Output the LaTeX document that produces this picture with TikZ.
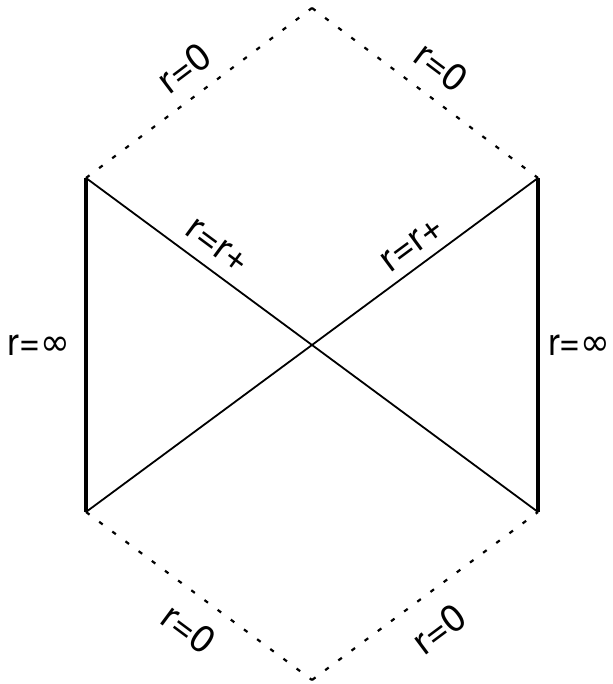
\documentclass[tikz,border=0pt]{standalone}
\usepackage{fontspec}
\setmainfont{TeX Gyre Heros}
\newfontfamily\dejavu{DejaVu Sans}
\newcommand{\infsym}{{\dejavu ∞}}
\usepackage{tikz}
\usetikzlibrary{positioning}

\begin{document}
\begin{tikzpicture}[x=0.5pt,y=0.5pt,font=\fontsize{19}{22}\selectfont,
  horizon/.style={line width=0.9pt},
  singul/.style={line width=1.1pt,dash pattern=on 2.2pt off 6pt},
  bord/.style={line width=2.3pt},
  lbl/.style={sloped,inner sep=2pt},
  inflbl/.style={inner sep=1pt,xscale=0.94}]
  \useasboundingbox (0,0) rectangle (612,684);
  \coordinate (T)  at (312,676);
  \coordinate (LU) at (86,506);
  \coordinate (RU) at (538,506);
  \coordinate (LL) at (86,172);
  \coordinate (RL) at (538,172);
  \coordinate (B)  at (312,4);

  % singularities
  \draw[singul] (LU) -- node[lbl,above=5pt,pos=0.51] {r=0} (T);
  \draw[singul] (T) -- node[lbl,above=6pt,pos=0.49] {r=0} (RU);
  \draw[singul] (LL) -- node[lbl,below=7pt,pos=0.54] {r=0} (B);
  \draw[singul] (B) -- node[lbl,below=8pt,pos=0.47] {r=0} (RL);

  % horizons
  \draw[horizon] (LU) -- node[lbl,above=4pt,pos=0.26] {r=r+} (RL);
  \draw[horizon] (LL) -- node[lbl,above=3pt,pos=0.75] {r=r+} (RU);

  % boundaries
  \draw[bord] (LL) -- node[inflbl,left=6pt] {r=\infsym} (LU);
  \draw[bord] (RL) -- node[inflbl,right=3pt] {r=\infsym} (RU);
\end{tikzpicture}
\end{document}
